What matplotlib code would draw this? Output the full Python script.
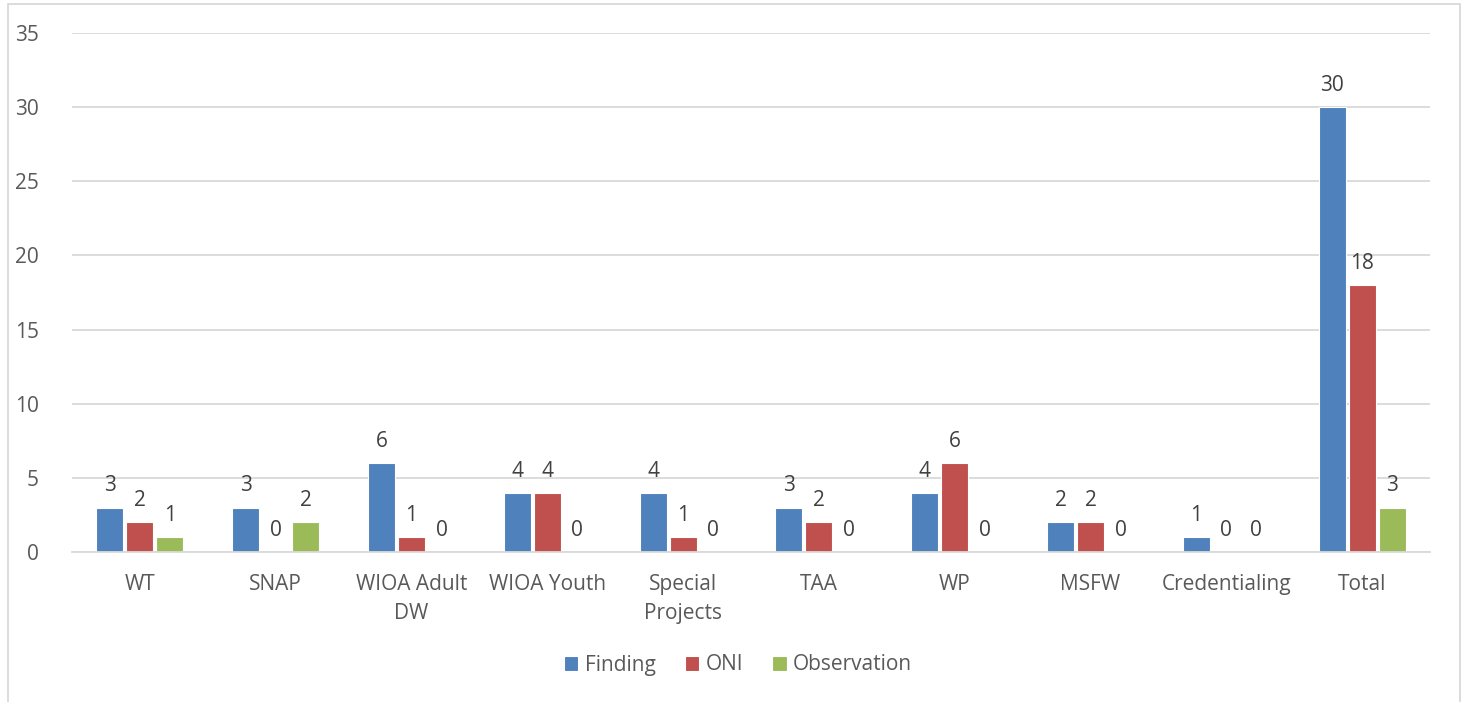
import numpy as np
import matplotlib.pyplot as plt
from matplotlib.patches import Rectangle

categories = ["WT", "SNAP", "WIOA Adult\nDW", "WIOA Youth", "Special\nProjects",
              "TAA", "WP", "MSFW", "Credentialing", "Total"]
finding = [3, 3, 6, 4, 4, 3, 4, 2, 1, 30]
oni = [2, 0, 1, 4, 1, 2, 6, 2, 0, 18]
observation = [1, 2, 0, 0, 0, 0, 0, 0, 0, 3]

series = [("Finding", finding, "#4F81BD"),
          ("ONI", oni, "#C0504D"),
          ("Observation", observation, "#9BBB59")]

plt.rcParams['font.family'] = ['Open Sans', 'DejaVu Sans']
txt = "#595959"
fs = 15

fig = plt.figure(figsize=(14.67, 7.02), dpi=100)
ax = fig.add_axes([72/1467, 1 - 552/702, (1430-72)/1467, (552-33)/702])

x = np.arange(len(categories))
step = 0.221
for i, (name, vals, col) in enumerate(series):
    pos = x + (i - 1) * step
    ax.bar(pos, vals, width=0.2, color=col, edgecolor="white", linewidth=0.8, label=name, zorder=3)
    for xp, v in zip(pos, vals):
        ax.text(xp, v + 0.75, str(v), ha="center", va="bottom", fontsize=fs, color="#404040")

ax.set_xlim(-0.5, len(categories) - 0.5)
ax.set_ylim(0, 35)
ax.set_yticks(range(0, 36, 5))
ax.yaxis.grid(True, color="#D9D9D9", linewidth=1.3, zorder=0)
ax.set_xticks(x)
ax.set_xticklabels(categories, fontsize=fs, color=txt, linespacing=1.5)
ax.tick_params(axis="both", length=0, labelsize=fs, labelcolor=txt)
ax.tick_params(axis="x", pad=16)
ax.tick_params(axis="y", pad=24)
for s in ["top", "right", "left"]:
    ax.spines[s].set_visible(False)
ax.spines["bottom"].set_color("#D9D9D9")
ax.spines["bottom"].set_linewidth(1.3)
ax.spines["bottom"].set_zorder(4)

leg = fig.legend(loc="center", bbox_to_anchor=(738/1467, 1 - 665/702), ncol=3, frameon=False,
                 fontsize=fs, handlelength=0.7, handleheight=0.7, handletextpad=0.3,
                 columnspacing=1.4)
for t in leg.get_texts():
    t.set_color(txt)

fig.patches.append(Rectangle((8/1467, -0.01), (1460-8)/1467, 1 - 4/702 + 0.01,
                             transform=fig.transFigure, fill=False,
                             edgecolor="#D9D9D9", linewidth=1.3))

fig.savefig("out.png", dpi=100)
